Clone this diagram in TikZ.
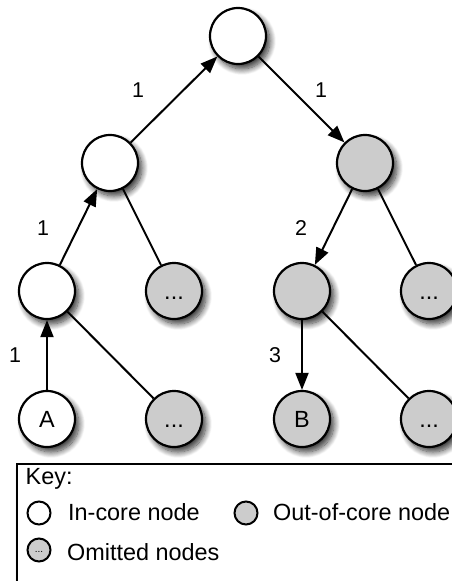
\documentclass[tikz,border=0pt]{standalone}
\usepackage{fontspec}
\setmainfont{Liberation Sans}
\usetikzlibrary{arrows.meta,shadows.blur}
\definecolor{greyfill}{HTML}{CCCCCC}
\newcommand\myNodeFont{\fontsize{23.5}{28}\selectfont}
\newcommand\myLblFont{\fontsize{21.5}{24}\selectfont}
\begin{document}
\begin{tikzpicture}[x=1bp,y=-1bp,
  shad/.style={blur shadow={shadow xshift=4bp, shadow yshift=-5bp, shadow blur radius=6bp, shadow blur steps=12, shadow opacity=80}},
  tnode/.style={circle, draw, line width=2.2bp, minimum size=56bp, inner sep=0pt, fill=white, shad, font=\myNodeFont},
  outc/.style={tnode, fill=greyfill},
  arr/.style={line width=2bp, -{Triangle[length=17bp,width=13bp]}},
  ln/.style={line width=2bp},
  lbl/.style={font=\myLblFont, inner sep=0pt},
  keytxt/.style={font=\myNodeFont, inner sep=0pt, anchor=base west},
  kcirc/.style={circle, draw, line width=2bp, minimum size=23bp, inner sep=0pt}
]
\clip (0,0) rectangle (452,581);
% tree nodes
\node[tnode] (root) at (238,36) {};
\node[tnode] (L1) at (110,163) {};
\node[outc] (R1) at (365,163) {};
\node[tnode] (L2) at (47,291) {};
\node[outc] (LO) at (174,291) {\vphantom{A}...};
\node[outc] (R2) at (302,291) {};
\node[outc] (RO) at (429,291) {\vphantom{A}...};
\node[tnode] (A) at (47,419) {A};
\node[outc] (AO) at (174,419) {\vphantom{A}...};
\node[outc] (B) at (302,419) {B};
\node[outc] (BO) at (429,419) {\vphantom{A}...};
% edges
\draw[arr] (L1) -- (root);
\draw[arr] (root) -- (R1);
\draw[arr] (L2) -- (L1);
\draw[ln] (L1) -- (LO);
\draw[arr] (R1) -- (R2);
\draw[ln] (R1) -- (RO);
\draw[arr] (A) -- (L2);
\draw[ln] (L2) -- (AO);
\draw[arr] (R2) -- (B);
\draw[ln] (R2) -- (BO);
% edge labels
\node[lbl] (l1) at (138,90) {1};
\node[lbl] (l2) at (321,90) {1};
\node[lbl] (l3) at (43,228) {1};
\node[lbl] (l4) at (301,228) {2};
\node[lbl] (l5) at (15,355) {1};
\node[lbl] (l6) at (275,355) {3};
% key
\node[draw, line width=2.2bp, fill=white, shad, minimum width=480bp, minimum height=118bp, anchor=north west, inner sep=0pt] (key) at (16,463) {};
\node[keytxt] (keyt) at (25.5,484.3) {Key:};
\node[kcirc, fill=white] (kc1) at (39,513) {};
\node[keytxt] (kt1) at (68,520) {In-core node};
\node[kcirc, fill=greyfill] (kc2) at (246,513) {};
\node[keytxt] (kt2) at (273,520) {Out-of-core node};
\node[kcirc, fill=greyfill, font=\fontsize{10}{10}\selectfont] (kc3) at (39,550) {\raisebox{-4bp}{...}};
\node[keytxt] (kt3) at (67,560) {Omitted nodes};
\end{tikzpicture}
\end{document}
